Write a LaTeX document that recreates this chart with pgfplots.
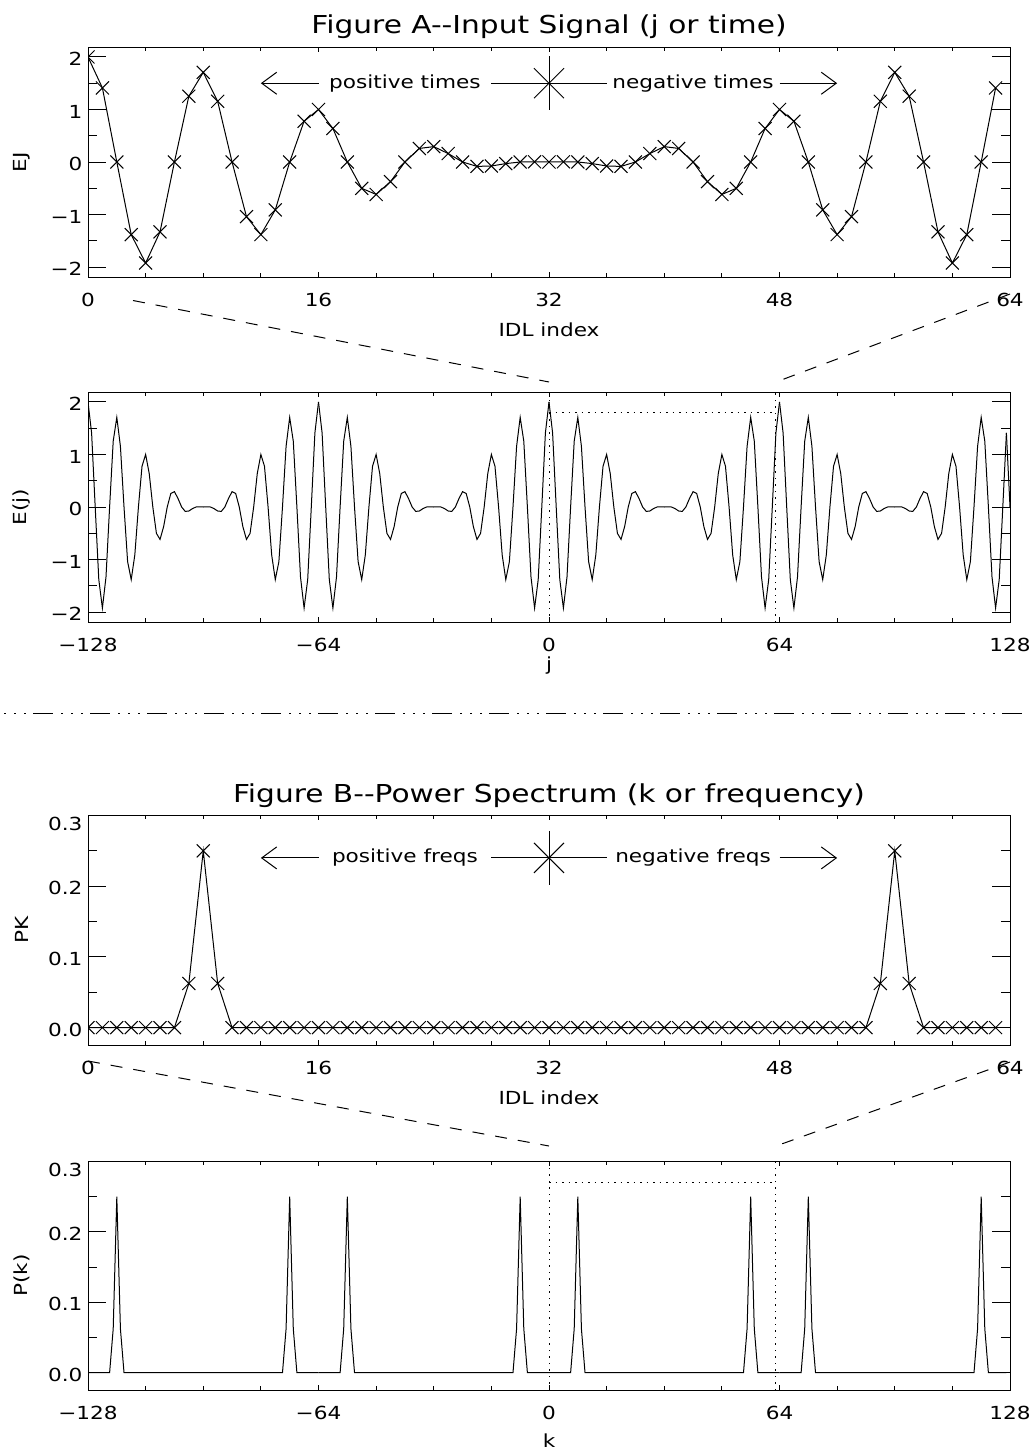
\documentclass[border=0pt]{standalone}
\usepackage{fontspec}
\setmainfont{DejaVu Sans}[FakeStretch=1.2]
\usepackage{pgfplots}
\pgfplotsset{compat=1.18}
\usepackage{pgfplotstable}
\usetikzlibrary{arrows.meta}

\pgfplotstableread{
j E
0 2.00000
1 1.41081
2 0
3 -1.38377
4 -1.92388
5 -1.33072
6 0
7 1.25371
8 1.70711
9 1.15569
10 0
11 -1.04044
12 -1.38268
13 -0.91237
14 0
15 0.77642
16 1.00000
17 0.63780
18 0
19 -0.50185
20 -0.61732
21 -0.37378
22 0
23 0.25853
24 0.29289
25 0.16051
26 0
27 -0.08350
28 -0.07612
29 -0.03045
30 0
31 0.00341
32 0
33 0.00341
34 0
35 -0.03045
36 -0.07612
37 -0.08350
38 0
39 0.16051
40 0.29289
41 0.25853
42 0
43 -0.37378
44 -0.61732
45 -0.50185
46 0
47 0.63780
48 1.00000
49 0.77642
50 0
51 -0.91237
52 -1.38268
53 -1.04044
54 0
55 1.15569
56 1.70711
57 1.25371
58 0
59 -1.33072
60 -1.92388
61 -1.38377
62 0
63 1.41081
64 2.00000
}\Etab

\pgfplotstableread{
k P
0 0
1 0
2 0
3 0
4 0
5 0
6 0
7 0.0625
8 0.25
9 0.0625
10 0
11 0
12 0
13 0
14 0
15 0
16 0
17 0
18 0
19 0
20 0
21 0
22 0
23 0
24 0
25 0
26 0
27 0
28 0
29 0
30 0
31 0
32 0
33 0
34 0
35 0
36 0
37 0
38 0
39 0
40 0
41 0
42 0
43 0
44 0
45 0
46 0
47 0
48 0
49 0
50 0
51 0
52 0
53 0
54 0
55 0.0625
56 0.25
57 0.0625
58 0
59 0
60 0
61 0
62 0
63 0
64 0
}\Ptab

\newcommand\tsz{\fontsize{18bp}{21bp}\selectfont}
\newcommand\ttl{\fontsize{24.7bp}{29bp}\selectfont}

\tikzset{
  dl/.style={line width=1bp, black},
  dotl/.style={line width=1bp, black, dash pattern=on 1.5bp off 5bp},
  dashl/.style={line width=1bp, black, dash pattern=on 12bp off 11bp},
  barb/.style={line width=1bp, -{Straight Barb[length=15bp,width=22bp]}},
}

\pgfplotsset{
  idl/.style={
    scale only axis, width=922bp, height=230bp,
    axis line style={line width=1bp, black},
    tick align=inside,
    tick style={black, line width=1bp},
    xtick style={/pgfplots/major tick length=5bp, /pgfplots/minor tick length=4bp},
    ytick style={/pgfplots/major tick length=18.4bp, /pgfplots/minor tick length=9.2bp},
    minor y tick num=1,
    minor x tick num=3,
    tick label style={font=\tsz},
    xticklabel style={yshift=-13bp},
    yticklabel style={xshift=-2bp, yshift=-2bp},
    label style={font=\tsz},
    ylabel style={at={(axis description cs:-0.0716,0.5)}, anchor=center},
    clip marker paths=true,
  },
  topx/.style={xmin=0, xmax=64, xtick={0,16,32,48,64}, xticklabels={0,16,32,48,64}},
  botx/.style={xmin=-128, xmax=128, xtick={-128,-64,0,64,128}, xticklabels={−128,−64,0,64,128}},
  ey/.style={ymin=-2.19, ymax=2.19, ytick={-2,-1,0,1,2}, yticklabels={−2,−1,0,1,2}},
  py/.style={ymin=-0.0246, ymax=0.3007, ytick={0,0.1,0.2,0.3},
    yticklabels={0.0,0.1,0.2,\raisebox{-6bp}[\height][0pt]{0.3}}},
}

\begin{document}
\begin{tikzpicture}
\useasboundingbox (0,0) rectangle (1030bp,-1452bp);

% ---------------- Figure A title
\node[font=\ttl, anchor=base] at (549bp,-33bp) {Figure A-{}-Input Signal (j or time)};

% ---------------- Panel 1
\begin{axis}[idl, topx, ey, at={(88bp,-277bp)}, anchor=south west,
  xlabel={IDL index}, ylabel={EJ},
  xlabel style={at={(axis description cs:0.5,-0.2565)}, anchor=base}]
\addplot[dl, mark=x, mark size=9.2bp, skip coords between index={64}{65}] table[x=j, y=E] {\Etab};
\draw[barb] (axis cs:16,1.5) -- (axis cs:12,1.5);
\draw[dl] (axis cs:28,1.5) -- (axis cs:36,1.5);
\draw[barb] (axis cs:48,1.5) -- (axis cs:52,1.5);
\draw[dl] ([yshift=27bp]axis cs:32,1.5) -- ([yshift=-27bp]axis cs:32,1.5);
\draw[dl] ([shift={(-15bp,-15bp)}]axis cs:32,1.5) -- ([shift={(15bp,15bp)}]axis cs:32,1.5);
\draw[dl] ([shift={(-15bp,15bp)}]axis cs:32,1.5) -- ([shift={(15bp,-15bp)}]axis cs:32,1.5);
\node[font=\tsz, anchor=base, yshift=-5bp] at (axis cs:22,1.5) {positive times};
\node[font=\tsz, anchor=base, yshift=-5bp] at (axis cs:42,1.5) {negative times};
\end{axis}

% ---------------- Panel 2
\begin{axis}[idl, botx, ey, at={(88bp,-622bp)}, anchor=south west,
  xlabel={j}, ylabel={E(j)},
  xlabel style={at={(axis description cs:0.5,-0.2104)}, anchor=base}]
\addplot[dl] table[x expr=\thisrow{j}-128, y=E] {\Etab};
\addplot[dl] table[x expr=\thisrow{j}-64, y=E] {\Etab};
\addplot[dl] table[x=j, y=E] {\Etab};
\addplot[dl, skip coords between index={64}{65}] table[x expr=\thisrow{j}+64, y=E] {\Etab};
\addplot[dl] coordinates {(127,1.41081) (128,0)};
\addplot[dotl] coordinates {(0,-2.19) (0,2.19)};
\addplot[dotl] coordinates {(63,-2.19) (63,2.19)};
\addplot[dotl] coordinates {(0,1.8) (63,1.8)};
\end{axis}

% connectors A
\draw[dashl] (133bp,-300.5bp) -- (549bp,-382bp);
\draw[dashl] (1010bp,-294bp) -- (776bp,-382bp);

% separator
\draw[line width=1bp, dash pattern=on 20bp off 8bp on 2bp off 8bp on 2bp off 8bp on 2bp off 7bp, dash phase=24bp] (0,-713bp) -- (1030bp,-713bp);

% ---------------- Figure B title
\node[font=\ttl, anchor=base] at (549bp,-802bp) {Figure B-{}-Power Spectrum (k or frequency)};

% ---------------- Panel 3
\begin{axis}[idl, topx, py, at={(88bp,-1045bp)}, anchor=south west,
  xlabel={IDL index}, ylabel={PK},
  xlabel style={at={(axis description cs:0.5,-0.2565)}, anchor=base}]
\addplot[dl, mark=x, mark size=9.2bp, skip coords between index={64}{65}] table[x=k, y=P] {\Ptab};
\draw[barb] (axis cs:16,0.24) -- (axis cs:12,0.24);
\draw[dl] (axis cs:28,0.24) -- (axis cs:36,0.24);
\draw[barb] (axis cs:48,0.24) -- (axis cs:52,0.24);
\draw[dl] ([yshift=27bp]axis cs:32,0.24) -- ([yshift=-27bp]axis cs:32,0.24);
\draw[dl] ([shift={(-15bp,-15bp)}]axis cs:32,0.24) -- ([shift={(15bp,15bp)}]axis cs:32,0.24);
\draw[dl] ([shift={(-15bp,15bp)}]axis cs:32,0.24) -- ([shift={(15bp,-15bp)}]axis cs:32,0.24);
\node[font=\tsz, anchor=base, yshift=-5bp] at (axis cs:22,0.24) {positive freqs};
\node[font=\tsz, anchor=base, yshift=-5bp] at (axis cs:42,0.24) {negative freqs};
\end{axis}

% ---------------- Panel 4
\begin{axis}[idl, botx, py, height=229bp, at={(88bp,-1390bp)}, anchor=south west,
  xlabel={k}, ylabel={P(k)},
  xlabel style={at={(axis description cs:0.5,-0.249)}, anchor=base}]
\addplot[dl] table[x expr=\thisrow{k}-128, y=P] {\Ptab};
\addplot[dl] table[x expr=\thisrow{k}-64, y=P] {\Ptab};
\addplot[dl] table[x=k, y=P] {\Ptab};
\addplot[dl, skip coords between index={64}{65}] table[x expr=\thisrow{k}+64, y=P] {\Ptab};
\addplot[dl] coordinates {(127,0) (128,0)};
\addplot[dotl] coordinates {(0,-0.0246) (0,0.3007)};
\addplot[dotl] coordinates {(63,-0.0246) (63,0.3007)};
\addplot[dotl] coordinates {(0,0.27) (63,0.27)};
\end{axis}

% connectors B
\draw[dashl] (88bp,-1061bp) -- (549bp,-1146bp);
\draw[dashl] (1010bp,-1062bp) -- (776bp,-1146bp);

\end{tikzpicture}
\end{document}
